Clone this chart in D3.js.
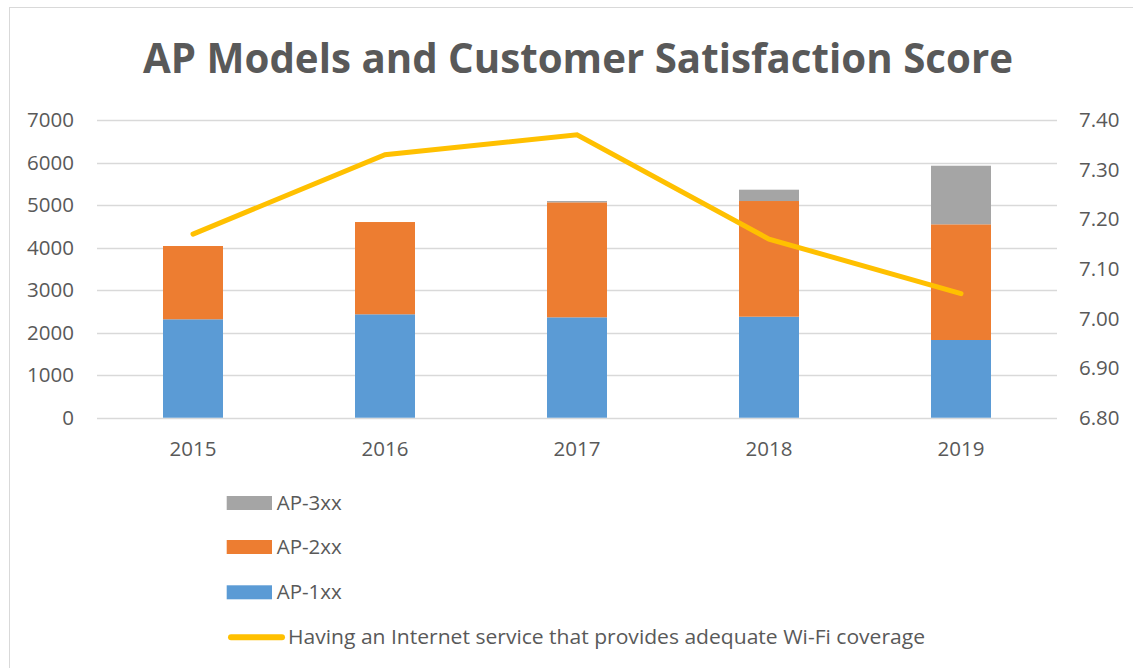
<!DOCTYPE html>
<html>
<head>
<meta charset="utf-8">
<script src="https://cdn.jsdelivr.net/npm/d3@7"></script>
<style>
  body { margin: 0; background: #fff; }
  text { font-family: "Open Sans", sans-serif; fill: #595959; }
</style>
</head>
<body>
<svg id="chart" width="1133" height="668"></svg>
<script>
// data
const years = ["2015", "2016", "2017", "2018", "2019"];
const ap1xx = [2314, 2431, 2360, 2375, 1827];
const ap2xx = [1723, 2170, 2704, 2720, 2720];
const ap3xx = [0, 0, 30, 266, 1378];
const wifiScore = [7.17, 7.33, 7.37, 7.16, 7.05];

const leftTicks = [0, 1000, 2000, 3000, 4000, 5000, 6000, 7000];
const rightTicks = [6.8, 6.9, 7.0, 7.1, 7.2, 7.3, 7.4];

const seriesKeys = ["AP-1xx", "AP-2xx", "AP-3xx"];
const lineLabel = "Having an Internet service that provides adequate Wi-Fi coverage";
const title = "AP Models and Customer Satisfaction Score";

const colors = { "AP-1xx": "#5B9BD5", "AP-2xx": "#ED7D31", "AP-3xx": "#A5A5A5" };
const lineColor = "#FFC000";

const svg = d3.select("#chart");

// chart frame
svg.append("rect")
  .attr("x", 9.5).attr("y", 7.5)
  .attr("width", 1140).attr("height", 680)
  .attr("fill", "#fff")
  .attr("stroke", "#D9D9D9");

// plot area
const plotLeft = 97, plotRight = 1057, plotTop = 120, plotBottom = 417.7;

const x = d3.scaleBand()
  .domain(years)
  .range([plotLeft, plotRight])
  .paddingInner(0.6875)
  .paddingOuter(0.34375);

const y = d3.scaleLinear().domain([0, 7000]).range([plotBottom, plotTop]);
const y2 = d3.scaleLinear().domain([6.8, 7.4]).range([plotBottom, plotTop]);

// gridlines
svg.append("g")
  .selectAll("line")
  .data(leftTicks)
  .enter()
  .append("line")
  .attr("x1", plotLeft).attr("x2", plotRight)
  .attr("y1", d => Math.round(y(d)) + 0.5)
  .attr("y2", d => Math.round(y(d)) + 0.5)
  .attr("stroke", "#D9D9D9")
  .attr("stroke-width", 1.3);

// stacked bars
const table = years.map((yr, i) => ({
  year: yr, "AP-1xx": ap1xx[i], "AP-2xx": ap2xx[i], "AP-3xx": ap3xx[i]
}));
const stacked = d3.stack().keys(seriesKeys)(table);

svg.append("g")
  .selectAll("g")
  .data(stacked)
  .enter()
  .append("g")
  .attr("fill", d => colors[d.key])
  .selectAll("rect")
  .data(d => d)
  .enter()
  .append("rect")
  .attr("x", d => x(d.data.year))
  .attr("width", x.bandwidth())
  .attr("y", d => y(d[1]))
  .attr("height", d => y(d[0]) - y(d[1]));

// score line
const line = d3.line()
  .x((d, i) => x(years[i]) + x.bandwidth() / 2)
  .y(d => y2(d));

svg.append("path")
  .datum(wifiScore)
  .attr("d", line)
  .attr("fill", "none")
  .attr("stroke", lineColor)
  .attr("stroke-width", 5)
  .attr("stroke-linecap", "round")
  .attr("stroke-linejoin", "miter");

// axes (labels only)
const fontSize = "20.5px";

const yAxis = svg.append("g")
  .attr("transform", "translate(74,0)")
  .call(d3.axisLeft(y).tickValues(leftTicks).tickFormat(d3.format("d")).tickSize(0).tickPadding(0));
yAxis.select(".domain").remove();
yAxis.attr("font-family", null).attr("font-size", null);
yAxis.selectAll("text").style("font-size", fontSize).attr("fill", null);

const y2Axis = svg.append("g")
  .attr("transform", "translate(1079,0)")
  .call(d3.axisRight(y2).tickValues(rightTicks).tickFormat(d3.format(".2f")).tickSize(0).tickPadding(0));
y2Axis.select(".domain").remove();
y2Axis.attr("font-family", null).attr("font-size", null);
y2Axis.selectAll("text").style("font-size", fontSize).attr("fill", null);

const xAxis = svg.append("g")
  .attr("transform", "translate(0," + plotBottom + ")")
  .call(d3.axisBottom(x).tickSize(0).tickPadding(0));
xAxis.select(".domain").remove();
xAxis.attr("font-family", null).attr("font-size", null);
xAxis.selectAll("text")
  .attr("y", 38).attr("dy", 0)
  .style("font-size", fontSize).attr("fill", null);

// title
const titleText = svg.append("text")
  .attr("x", 578)
  .attr("y", 73.3)
  .attr("text-anchor", "middle")
  .style("font-size", "41px")
  .style("font-weight", 700)
  .text(title);
const titleWidth = 870;
if (titleText.node().getComputedTextLength() > titleWidth) {
  titleText.attr("textLength", titleWidth).attr("lengthAdjust", "spacingAndGlyphs");
}

// legend
const legendItems = [
  { label: "AP-3xx", type: "rect", color: colors["AP-3xx"] },
  { label: "AP-2xx", type: "rect", color: colors["AP-2xx"] },
  { label: "AP-1xx", type: "rect", color: colors["AP-1xx"] },
  { label: lineLabel, type: "line", color: lineColor }
];
const legendBaselines = [510, 554, 599.3, 644];

const legend = svg.append("g");
legendItems.forEach((item, i) => {
  const base = legendBaselines[i];
  let textX;
  if (item.type === "rect") {
    legend.append("rect")
      .attr("x", 226.7).attr("y", base - 14)
      .attr("width", 45.3).attr("height", 14)
      .attr("fill", item.color);
    textX = 276.7;
  } else {
    legend.append("line")
      .attr("x1", 231).attr("x2", 282)
      .attr("y1", base - 6.7).attr("y2", base - 6.7)
      .attr("stroke", item.color)
      .attr("stroke-width", 6)
      .attr("stroke-linecap", "round");
    textX = 288;
  }
  const t = legend.append("text")
    .attr("x", textX).attr("y", base)
    .style("font-size", fontSize)
    .text(item.label);
  // the long label spans 288..925 in the reference
  if (item.type === "line") {
    t.attr("textLength", 637).attr("lengthAdjust", "spacingAndGlyphs");
  }
});
</script>
</body>
</html>
